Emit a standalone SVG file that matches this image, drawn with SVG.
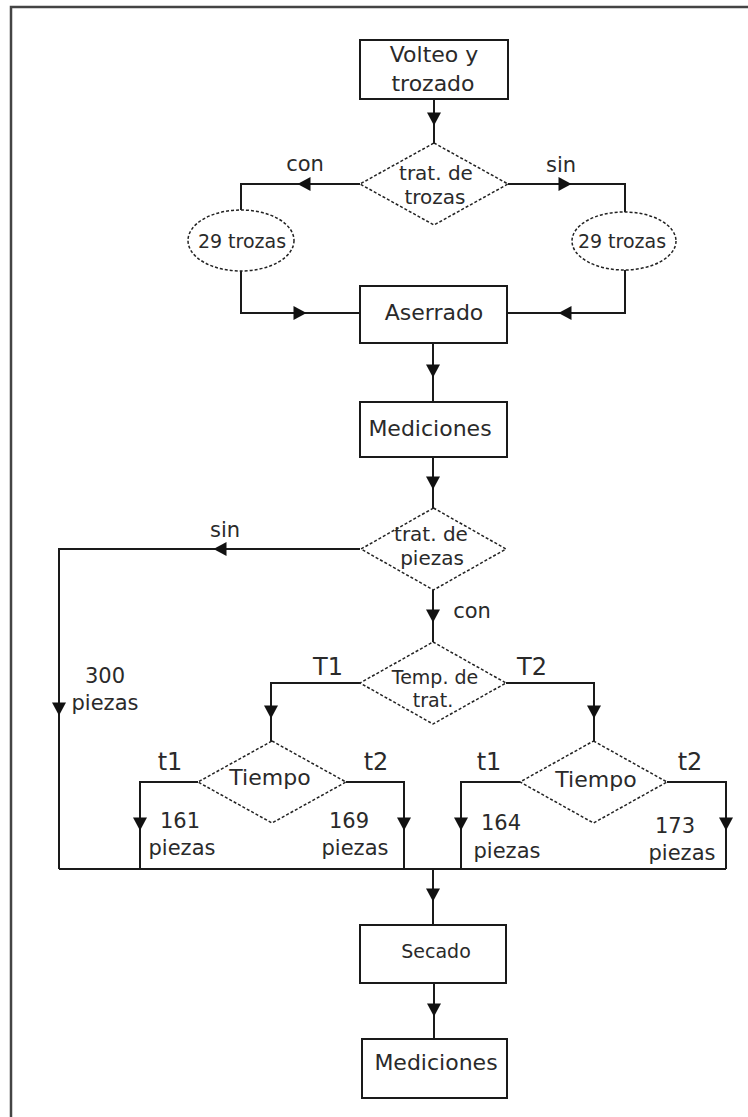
<svg xmlns="http://www.w3.org/2000/svg" width="748" height="1117" viewBox="0 0 748 1117">
<style>
.box{fill:#fff;stroke:#1a1a1a;stroke-width:2}
.dec{fill:#fff;stroke:#222;stroke-width:1.5;stroke-dasharray:3 2}
.ln{fill:none;stroke:#1a1a1a;stroke-width:2}
text{font-family:"DejaVu Sans","Open Sans",sans-serif;fill:#2a2a2a;text-anchor:middle;font-size:22px}
.lb{font-size:21px}
.dm{font-size:20px}
.sm{font-size:19px}
.big{font-size:24px}
</style>
<defs>
<path id="ah" d="M-6.5,-7 L6.5,0 L-6.5,7 Z" fill="#111"/>
</defs>
<rect width="748" height="1117" fill="#fff"/>
<path d="M11,1117 V7 H748" fill="none" stroke="#444" stroke-width="2.5"/>

<g id="connectors">
<path class="ln" d="M434,99 V143"/>
<path class="ln" d="M360,184 H241 V210 M241,271 V313 H360"/>
<path class="ln" d="M508,184 H625 V212 M625,270 V313 H507"/>
<path class="ln" d="M433,343 V402"/>
<path class="ln" d="M433,457 V508"/>
<path class="ln" d="M360,549 H59 V869"/>
<path class="ln" d="M433,590 V642"/>
<path class="ln" d="M360,683 H271 V741"/>
<path class="ln" d="M506,683 H594 V741"/>
<path class="ln" d="M198,782 H140 V869 M346,782 H404 V869"/>
<path class="ln" d="M520,782 H461 V869 M667,782 H726 V869"/>
<path class="ln" d="M59,869 H726"/>
<path class="ln" d="M433,869 V925"/>
<path class="ln" d="M434,983 V1039"/>
<use href="#ah" transform="translate(434,119) rotate(90)"/>
<use href="#ah" transform="translate(304,184) rotate(180)"/>
<use href="#ah" transform="translate(565,184)"/>
<use href="#ah" transform="translate(300,313)"/>
<use href="#ah" transform="translate(565,313) rotate(180)"/>
<use href="#ah" transform="translate(433,371) rotate(90)"/>
<use href="#ah" transform="translate(433,483) rotate(90)"/>
<use href="#ah" transform="translate(220,549) rotate(180)"/>
<use href="#ah" transform="translate(433,616) rotate(90)"/>
<use href="#ah" transform="translate(59,709) rotate(90)"/>
<use href="#ah" transform="translate(271,712) rotate(90)"/>
<use href="#ah" transform="translate(594,712) rotate(90)"/>
<use href="#ah" transform="translate(140,824) rotate(90)"/>
<use href="#ah" transform="translate(404,824) rotate(90)"/>
<use href="#ah" transform="translate(461,824) rotate(90)"/>
<use href="#ah" transform="translate(726,824) rotate(90)"/>
<use href="#ah" transform="translate(433,895) rotate(90)"/>
<use href="#ah" transform="translate(434,1010) rotate(90)"/>
<text class="lb" x="305" y="171">con</text>
<text class="lb" x="561" y="172">sin</text>
<text class="lb" x="225" y="537">sin</text>
<text class="lb" x="472" y="618">con</text>
<text class="lb" x="105" y="683">300<tspan x="105" y="710">piezas</tspan></text>
<text class="big" x="328" y="675">T1</text>
<text class="big" x="532" y="675">T2</text>
<text class="big" x="170" y="770">t1</text>
<text class="big" x="376" y="770">t2</text>
<text class="big" x="489" y="770">t1</text>
<text class="big" x="690" y="770">t2</text>
<text class="lb" x="180" y="828">161<tspan x="182" y="855">piezas</tspan></text>
<text class="lb" x="349" y="828">169<tspan x="355" y="855">piezas</tspan></text>
<text class="lb" x="501" y="830">164<tspan x="507" y="858">piezas</tspan></text>
<text class="lb" x="675" y="833">173<tspan x="682" y="860">piezas</tspan></text>
</g>

<g id="n-volteo">
<rect class="box" x="360" y="40" width="148" height="59"/>
<text x="434" y="62">Volteo y<tspan x="433" y="91">trozado</tspan></text>
</g>
<g id="n-trat-trozas">
<path class="dec" d="M434,143 L508,184 L434,225 L360,184 Z"/>
<text class="dm" x="436" y="180">trat. de<tspan x="435" y="204">trozas</tspan></text>
</g>
<g id="n-trozas-con">
<ellipse class="dec" cx="241" cy="240.5" rx="53" ry="30.5"/>
<text class="sm" x="242" y="248">29 trozas</text>
</g>
<g id="n-trozas-sin">
<ellipse class="dec" cx="624" cy="241" rx="52" ry="29"/>
<text class="sm" x="622" y="248">29 trozas</text>
</g>
<g id="n-aserrado">
<rect class="box" x="360" y="286" width="147" height="57"/>
<text x="434" y="320">Aserrado</text>
</g>
<g id="n-mediciones1">
<rect class="box" x="360" y="402" width="147" height="55"/>
<text x="430" y="436">Mediciones</text>
</g>
<g id="n-trat-piezas">
<path class="dec" d="M433.5,508 L506,549 L433.5,590 L361,549 Z"/>
<text class="dm" x="431" y="541">trat. de<tspan x="432" y="565">piezas</tspan></text>
</g>
<g id="n-temp">
<path class="dec" d="M433,642 L506,683 L433,724 L360,683 Z"/>
<text class="sm" x="435" y="684">Temp. de<tspan x="433" y="707">trat.</tspan></text>
</g>
<g id="n-tiempo1">
<path class="dec" d="M272,741 L346,782 L272,823 L198,782 Z"/>
<text x="270" y="785">Tiempo</text>
</g>
<g id="n-tiempo2">
<path class="dec" d="M593.5,741 L667,782 L593.5,823 L520,782 Z"/>
<text x="596" y="787">Tiempo</text>
</g>
<g id="n-secado">
<rect class="box" x="360" y="925" width="146" height="58"/>
<text class="sm" x="436" y="958">Secado</text>
</g>
<g id="n-mediciones2">
<rect class="box" x="362" y="1039" width="145" height="59"/>
<text x="436" y="1070">Mediciones</text>
</g>
</svg>
